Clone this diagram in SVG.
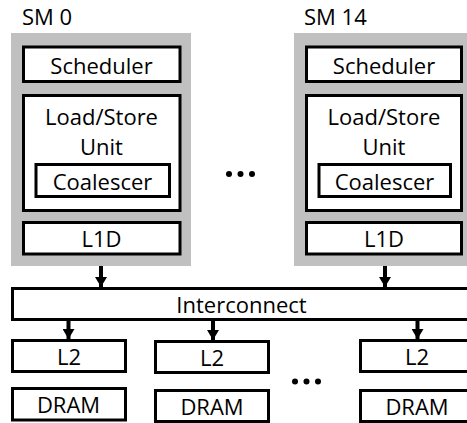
<svg xmlns="http://www.w3.org/2000/svg" width="467" height="423" viewBox="0 0 467 423">
<defs>
<style>
.sm{fill:#c0c0c0;stroke:none}
.box{fill:#fff;stroke:#000;stroke-width:3}
.t{font-family:"Open Sans","Liberation Sans",sans-serif;font-size:22px;fill:#000;text-anchor:middle}
.lbl{font-family:"Open Sans","Liberation Sans",sans-serif;font-size:22px;fill:#000}
.arr{stroke:#000;stroke-width:4;fill:none}
.dot{fill:#000}
</style>
<marker id="ah" viewBox="0 0 10 12" refX="10" refY="6" markerWidth="10" markerHeight="12" markerUnits="userSpaceOnUse" orient="auto">
<path d="M0,0 L10,6 L0,12 z" fill="#000"/>
</marker>
</defs>
<rect width="467" height="423" fill="#fff"/>

<g id="sm0">
<text class="lbl" x="22" y="25">SM 0</text>
<rect class="sm" x="11" y="33" width="180" height="233"/>
<g id="sm0-scheduler"><rect class="box" x="23.5" y="47" width="156.5" height="34.5"/><text class="t" x="101.5" y="74">Scheduler</text></g>
<g id="sm0-lsu"><rect class="box" x="23.5" y="95.5" width="156.5" height="115"/><text class="t" x="101.5" y="125">Load/Store</text><text class="t" x="101.5" y="155">Unit</text></g>
<g id="sm0-coalescer"><rect class="box" x="36" y="164.5" width="133.5" height="32"/><text class="t" x="102.5" y="190">Coalescer</text></g>
<g id="sm0-l1d"><rect class="box" x="23.5" y="222.5" width="156.5" height="31.5"/><text class="t" x="101.5" y="247">L1D</text></g>
</g>

<g id="sm14">
<text class="lbl" x="304" y="25">SM 14</text>
<rect class="sm" x="294" y="33" width="180" height="233"/>
<g id="sm14-scheduler"><rect class="box" x="306.5" y="47" width="155" height="34.5"/><text class="t" x="384" y="74">Scheduler</text></g>
<g id="sm14-lsu"><rect class="box" x="306.5" y="95.5" width="155" height="115"/><text class="t" x="384" y="125">Load/Store</text><text class="t" x="384" y="155">Unit</text></g>
<g id="sm14-coalescer"><rect class="box" x="319" y="164.5" width="131.5" height="32"/><text class="t" x="384.5" y="190">Coalescer</text></g>
<g id="sm14-l1d"><rect class="box" x="306.5" y="222.5" width="155" height="31.5"/><text class="t" x="384" y="247">L1D</text></g>
</g>

<g id="ellipsis-sm"><circle class="dot" cx="229" cy="174" r="3"/><circle class="dot" cx="240.5" cy="174" r="3"/><circle class="dot" cx="252" cy="174" r="3"/></g>

<g id="interconnect"><rect class="box" x="12.5" y="288.5" width="470" height="31"/><text class="t" x="241.5" y="313">Interconnect</text></g>

<g id="l2-0"><rect class="box" x="12.5" y="340.5" width="113" height="31"/><text class="t" x="69" y="365">L2</text></g>
<g id="l2-1"><rect class="box" x="155.5" y="341.5" width="113" height="31"/><text class="t" x="212" y="366">L2</text></g>
<g id="l2-2"><rect class="box" x="360.5" y="340.5" width="120" height="31"/><text class="t" x="417" y="365">L2</text></g>

<g id="dram-0"><rect class="box" x="12.5" y="388.5" width="113" height="31.5"/><text class="t" x="68.5" y="413">DRAM</text></g>
<g id="dram-1"><rect class="box" x="155.5" y="390.5" width="113" height="31"/><text class="t" x="212" y="415">DRAM</text></g>
<g id="dram-2"><rect class="box" x="360.5" y="390.5" width="120" height="31"/><text class="t" x="417" y="415">DRAM</text></g>

<g id="ellipsis-mem"><circle class="dot" cx="295" cy="381.5" r="3"/><circle class="dot" cx="306.5" cy="381.5" r="3"/><circle class="dot" cx="318" cy="381.5" r="3"/></g>

<g id="connectors">
<line class="arr" x1="101" y1="266" x2="101" y2="287" marker-end="url(#ah)"/>
<line class="arr" x1="385" y1="266" x2="385" y2="287" marker-end="url(#ah)"/>
<line class="arr" x1="68.5" y1="321" x2="68.5" y2="339" marker-end="url(#ah)"/>
<line class="arr" x1="213" y1="321" x2="213" y2="340" marker-end="url(#ah)"/>
<line class="arr" x1="417.5" y1="321" x2="417.5" y2="339" marker-end="url(#ah)"/>
</g>
</svg>
